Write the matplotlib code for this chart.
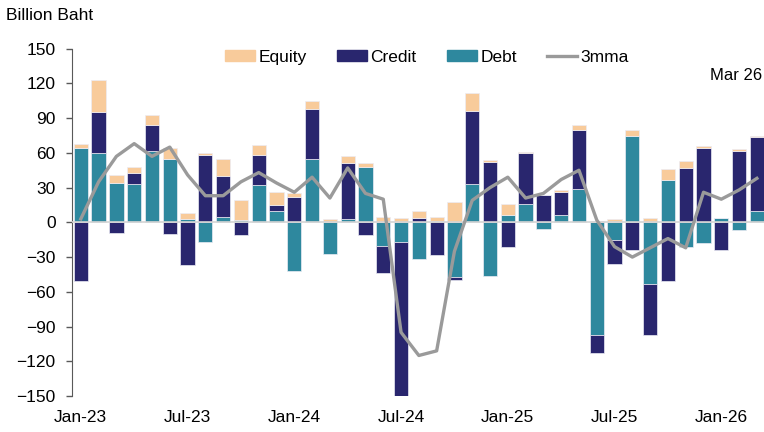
import numpy as np
import matplotlib
matplotlib.use("Agg")
import matplotlib.pyplot as plt

# ---- donnees (milliards de bahts) ----
tick_labels = ["Jan-23", "Jul-23", "Jan-24", "Jul-24", "Jan-25", "Jul-25", "Jan-26"]

debt = [64, 60, 34, 33, 62, 55, 3, -17, 5, 2, 32, 10,
        -42, 55, -27, 3, 48, -20, -17, -32, 1.5, -47, 33, -46,
        6, 16, -6, 6, 29, -97, -15, 75, -53, 37, -21, -18,
        3.5, -7, 10]
credit = [-51, 35, -9, 10, 22, -10, -37, 58, 35, -11, 26, 5,
          22, 43, 0, 48, -11, -24, -134, 4, -28, -3, 63, 52,
          -21, 44, 24, 20, 51, -16, -21, -24, -44, -51, 47, 64,
          -24, 62, 64]
equity = [4, 28, 7, 5, 9, 9, 5, 2, 15, 17, 9, 11,
          3, 7, 3, 6, 3, 5, 4, 6, 3, 18, 16, 2,
          10, 1, 0, 2, 4, 1, 3, 5, 4, 9, 6, 2,
          0.5, 1, 1]
mma3 = [3, 35, 57, 68, 57, 65, 41, 23, 23, 35, 43, 34,
        26, 39, 21, 47, 25, 20, -95, -115, -111, -25, 19, 30,
        39, 21, 25, 37, 45, 2, -21, -30, -22, -14, -22, 26,
        20, 28, 38]

# couleurs
c_equity = "#F8CB9B"
c_credit = "#29266E"
c_debt = "#2E889E"
c_line = "#9A9A9A"

plt.rcParams["font.family"] = ["Liberation Sans", "DejaVu Sans"]

fig = plt.figure(figsize=(7.64, 4.32), dpi=100)
ax = fig.add_axes([0.0946, 0.0833, 0.9054, 0.804])

x = np.arange(len(debt))
width = 0.8

# empilement : positifs vers le haut, negatifs vers le bas (debt, credit, equity)
pos_base = np.zeros(len(x))
neg_base = np.zeros(len(x))
for serie, col, nom in [(debt, c_debt, "Debt"), (credit, c_credit, "Credit"), (equity, c_equity, "Equity")]:
    v = np.array(serie, dtype=float)
    base = np.where(v >= 0, pos_base, neg_base)
    ax.bar(x, v, width, bottom=base, color=col, edgecolor="#ECECF4", linewidth=0.5, zorder=2)
    pos_base = pos_base + np.where(v >= 0, v, 0)
    neg_base = neg_base + np.where(v < 0, v, 0)

ax.axhline(0, color="#D4D4D4", lw=1.2, zorder=3)
ax.plot(x, mma3, color=c_line, lw=2.4, zorder=4)

ax.set_xlim(-0.48, 38.4)
ax.set_ylim(-150, 150)
ax.set_yticks(np.arange(-150, 151, 30))
ax.set_xticks(np.arange(0, 39, 6))
ax.set_xticklabels(tick_labels)

for s in ["top", "right", "bottom"]:
    ax.spines[s].set_visible(False)
ax.spines["left"].set_color("#595959")
ax.tick_params(axis="y", length=4, width=1, color="#595959", pad=8, labelsize=12.5)
ax.tick_params(axis="x", length=0, pad=10, labelsize=12.5)

# legende
handles = [plt.Rectangle((0, 0), 1, 1, color=c_equity),
           plt.Rectangle((0, 0), 1, 1, color=c_credit),
           plt.Rectangle((0, 0), 1, 1, color=c_debt),
           plt.Line2D([0], [0], color=c_line, lw=2.4)]
fig.legend(handles, ["Equity", "Credit", "Debt", "3mma"], loc="center",
           bbox_to_anchor=(0.559, 0.868), ncol=4, frameon=False, fontsize=12.5,
           handlelength=1.72, handleheight=0.55, handletextpad=0.2, columnspacing=1.75)

fig.text(0.008, 1 - 16 / 432, "Billion Baht", fontsize=12.5, va="center", ha="left")
fig.text(762 / 764, 1 - 75 / 432, "Mar 26", fontsize=12, va="center", ha="right")

fig.savefig("out.png", dpi=100)
